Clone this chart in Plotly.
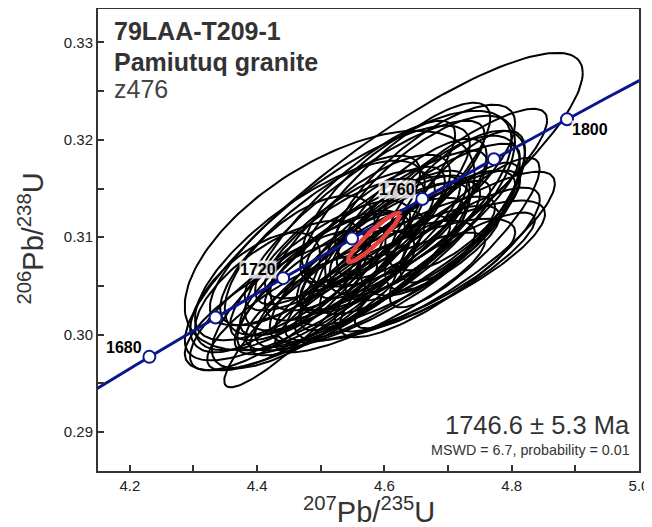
import numpy as np
import plotly.graph_objects as go

# ---- data ----
# ellipse centres (207Pb/235U, 206Pb/238U), 2-sigma half widths and error correlation
x207 = [4.599, 4.514, 4.675, 4.635, 4.656, 4.687, 4.695, 4.687, 4.656, 4.617,
        4.467, 4.474, 4.546, 4.577, 4.530, 4.562, 4.596, 4.499, 4.467, 4.436,
        4.711, 4.711, 4.617, 4.554, 4.656, 4.617, 4.562, 4.514, 4.486, 4.726,
        4.719, 4.585, 4.538, 4.643, 4.455, 4.593, 4.695, 4.565, 4.397, 4.664,
        4.522, 4.624, 4.546, 4.609, 4.499, 4.640, 4.530, 4.569, 4.483, 4.609,
        4.562, 4.436, 4.672, 4.624]
y206 = [0.31314, 0.30966, 0.31345, 0.31396, 0.31325, 0.31222, 0.30853, 0.30741, 0.30659, 0.30556,
        0.30351, 0.30280, 0.30505, 0.30741, 0.30864, 0.31048, 0.30966, 0.30659, 0.30710, 0.30505,
        0.31273, 0.31376, 0.31458, 0.31253, 0.30946, 0.30812, 0.30638, 0.30536, 0.30454, 0.31048,
        0.31150, 0.31109, 0.30987, 0.31294, 0.30228, 0.30433, 0.30659, 0.30864, 0.30433, 0.31560,
        0.30710, 0.31069, 0.30812, 0.30679, 0.30966, 0.31089, 0.31120, 0.31222, 0.30864, 0.30915,
        0.30505, 0.30351, 0.31017, 0.30710]
s207 = [0.3126, 0.2278, 0.1806, 0.1649, 0.1492, 0.1257, 0.1728, 0.1571, 0.1963, 0.1885,
        0.1806, 0.1257, 0.1571, 0.1571, 0.1492, 0.1414, 0.1335, 0.1414, 0.1178, 0.1335,
        0.1100, 0.1100, 0.1492, 0.1571, 0.1571, 0.1492, 0.1649, 0.1492, 0.1571, 0.1178,
        0.0942, 0.1100, 0.1257, 0.1178, 0.1335, 0.1649, 0.1414, 0.1963, 0.1021, 0.1414,
        0.1100, 0.1100, 0.1728, 0.1649, 0.1571, 0.1728, 0.2042, 0.1885, 0.1806, 0.1414,
        0.1806, 0.1414, 0.1335, 0.1571]
s206 = [0.01578, 0.01127, 0.00973, 0.00902, 0.00922, 0.00820, 0.00820, 0.00768, 0.00717, 0.00635,
        0.00717, 0.00820, 0.00717, 0.00820, 0.00820, 0.00799, 0.00717, 0.00717, 0.00717, 0.00666,
        0.00820, 0.00717, 0.00922, 0.00943, 0.00738, 0.00768, 0.00768, 0.00738, 0.00799, 0.00768,
        0.00615, 0.00615, 0.00615, 0.00717, 0.00594, 0.00615, 0.00594, 0.01025, 0.00615, 0.00799,
        0.00564, 0.00564, 0.00820, 0.00738, 0.00871, 0.00871, 0.01025, 0.00973, 0.00922, 0.00666,
        0.00666, 0.00717, 0.00666, 0.00615]
rho = [0.87, 0.60, 0.88, 0.66, 0.71, 0.66, 0.85, 0.84, 0.81, 0.78,
       0.76, 0.92, 0.85, 0.81, 0.76, 0.76, 0.81, 0.78, 0.62, 0.66,
       0.76, 0.66, 0.83, 0.85, 0.85, 0.87, 0.83, 0.81, 0.76, 0.85,
       0.78, 0.76, 0.76, 0.76, 0.81, 0.85, 0.87, 0.88, 0.62, 0.76,
       0.71, 0.76, 0.85, 0.85, 0.80, 0.85, 0.82, 0.85, 0.75, 0.80,
       0.80, 0.80, 0.78, 0.82]

# weighted mean / concordia ellipse
mean_x207 = [4.5835]
mean_y206 = [0.30997]
mean_s207 = [0.0408]
mean_s206 = [0.00251]
mean_rho = [0.93]

# concordia tick ages (Ma) and labelled ages
tick_ages = [1680, 1700, 1720, 1740, 1760, 1780, 1800]
label_ages = [1680, 1720, 1760, 1800]

LAMBDA238 = 1.55125e-10
LAMBDA235 = 9.8485e-10


def concordia(t_ma):
    t = np.asarray(t_ma, dtype=float) * 1e6
    return np.exp(LAMBDA235 * t) - 1.0, np.exp(LAMBDA238 * t) - 1.0


def ellipse_path(cx, cy, sx, sy, r, n=160):
    xs, ys = [], []
    th = np.linspace(0, 2 * np.pi, n)
    for a, b, c, d, e in zip(cx, cy, sx, sy, r):
        xs += list(a + c * np.cos(th)) + [None]
        ys += list(b + d * (e * np.cos(th) + np.sqrt(1 - e * e) * np.sin(th))) + [None]
    return xs, ys


FONT = "Liberation Sans"
fig = go.Figure()

ex, ey = ellipse_path(x207, y206, s207, s206, rho)
fig.add_trace(go.Scatter(x=ex, y=ey, mode="lines",
                         line=dict(color="black", width=2), hoverinfo="skip"))

cx_line, cy_line = concordia(np.arange(1640, 1841, 1))
fig.add_trace(go.Scatter(x=cx_line, y=cy_line, mode="lines",
                         line=dict(color="#0c168c", width=3), hoverinfo="skip"))

mx, my = ellipse_path(mean_x207, mean_y206, mean_s207, mean_s206, mean_rho)
fig.add_trace(go.Scatter(x=mx, y=my, mode="lines",
                         line=dict(color="#e8403a", width=4.5), hoverinfo="skip"))

tx, ty = concordia(tick_ages)
fig.add_trace(go.Scatter(x=tx, y=ty, mode="markers",
                         marker=dict(size=12, color="white",
                                     line=dict(color="#0c168c", width=2)),
                         hoverinfo="skip"))

lx, ly = concordia(label_ages)
for age, xv, yv in zip(label_ages, lx, ly):
    right = age == max(label_ages)
    fig.add_annotation(x=xv, y=yv, text=f"<b>{age}</b>", showarrow=False,
                       xshift=23 if right else -25, yshift=-10 if right else 9,
                       font=dict(size=16, color="black", family=FONT),
                       bgcolor="rgba(255,255,255,0.8)", borderpad=0)

title_font = dict(family=FONT, size=25, color="#333333")
fig.add_annotation(xref="paper", yref="paper", x=0.026, y=0.953, xanchor="left", yanchor="middle",
                   text="<b>79LAA-T209-1</b>", showarrow=False, font=title_font)
fig.add_annotation(xref="paper", yref="paper", x=0.026, y=0.886, xanchor="left", yanchor="middle",
                   text="<b>Pamiutuq granite</b>", showarrow=False, font=title_font)
fig.add_annotation(xref="paper", yref="paper", x=0.026, y=0.827, xanchor="left", yanchor="middle",
                   text="z476", showarrow=False, font=dict(family=FONT, size=25, color="#444444"))
fig.add_annotation(xref="paper", yref="paper", x=0.987, y=0.100, xanchor="right", yanchor="middle",
                   text="1746.6 ± 5.3 Ma", showarrow=False,
                   font=dict(family=FONT, size=25.5, color="#333333"))
fig.add_annotation(xref="paper", yref="paper", x=0.987, y=0.046, xanchor="right", yanchor="middle",
                   text="MSWD = 6.7, probability = 0.01", showarrow=False,
                   font=dict(family=FONT, size=14.3, color="#333333"))

# axis titles
fig.add_annotation(xref="paper", yref="paper", x=0.5, y=-0.084, xanchor="center", yanchor="middle",
                   text="<sup>207</sup>Pb/<sup>235</sup>U", showarrow=False,
                   font=dict(family=FONT, size=29, color="#333333"))
fig.add_annotation(xref="paper", yref="paper", x=-0.124, y=0.503, xanchor="center", yanchor="middle",
                   text="<sup>206</sup>Pb/<sup>238</sup>U", showarrow=False, textangle=-90,
                   font=dict(family=FONT, size=29, color="#333333"))

axis_common = dict(showgrid=False, zeroline=False, showline=True, linecolor="#333333",
                   linewidth=2, mirror=True, ticks="inside", ticklen=6, tickwidth=1.5,
                   automargin=False,
                   tickcolor="#333333", tickfont=dict(family=FONT, size=15, color="#222222"))

# the page adds an 8px body margin, so the figure margins are offset by 8px
fig.update_layout(
    width=652, height=527,
    margin=dict(l=90, r=21, t=1, b=64),
    paper_bgcolor="white", plot_bgcolor="white",
    showlegend=False,
    xaxis=dict(range=[4.15, 5.0], tick0=4.2, dtick=0.2, tickformat=".1f",
               minor=dict(dtick=0.1, tick0=4.1, ticks="inside", ticklen=6, tickwidth=1.5, tickcolor="#333333"),
               **axis_common),
    yaxis=dict(range=[0.28601, 0.33342], tick0=0.29, dtick=0.01, tickformat=".2f",
               minor=dict(dtick=0.005, tick0=0.285, ticks="inside", ticklen=6, tickwidth=1.5, tickcolor="#333333"),
               **axis_common),
)

fig.write_html("out.html")
